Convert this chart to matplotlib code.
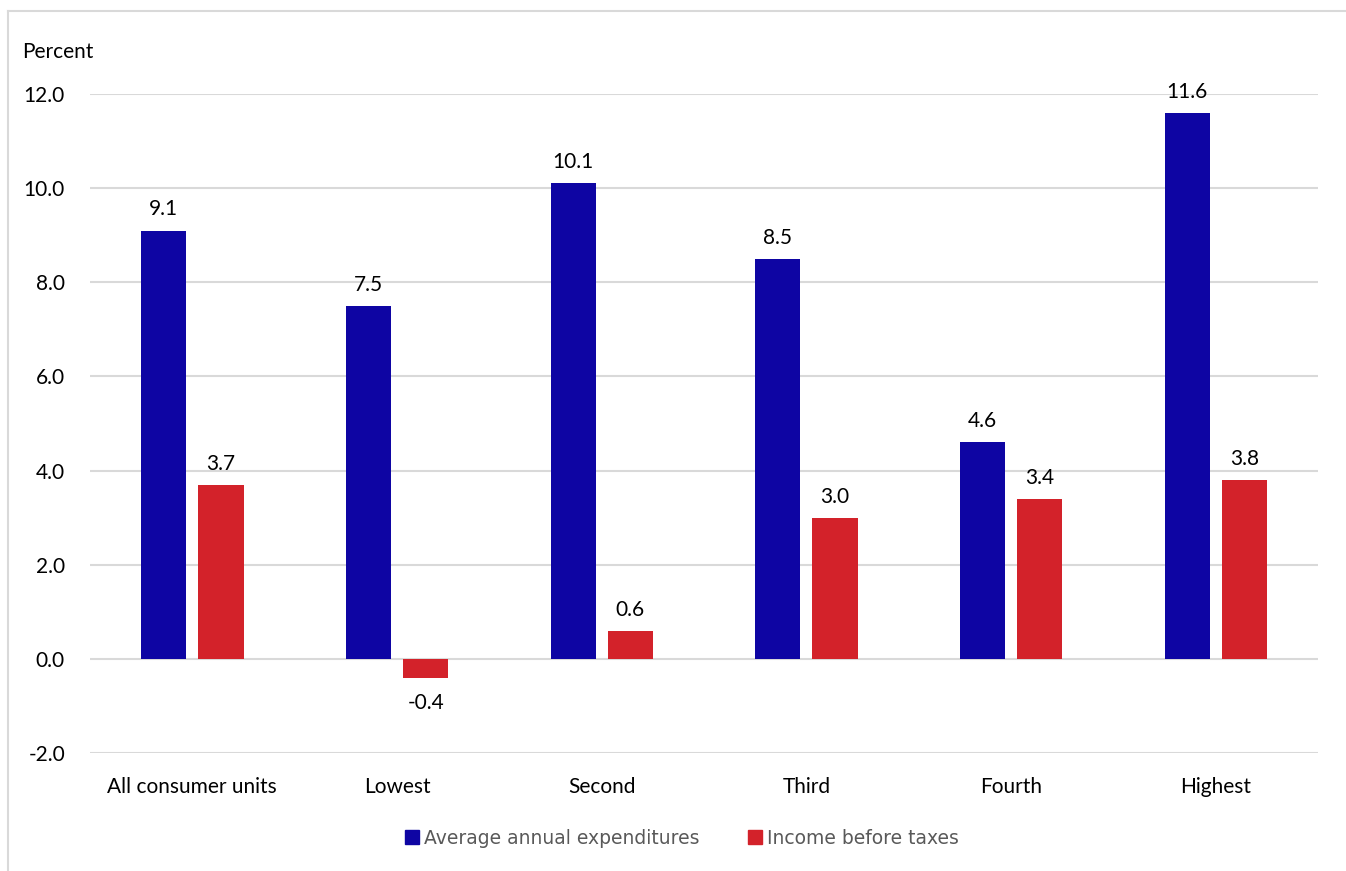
import numpy as np
import matplotlib.pyplot as plt
from matplotlib.lines import Line2D
from matplotlib.patches import Patch

# Percent change by income quintile
categories = ['All consumer units', 'Lowest', 'Second', 'Third', 'Fourth', 'Highest']
expenditures = [9.1, 7.5, 10.1, 8.5, 4.6, 11.6]
income = [3.7, -0.4, 0.6, 3.0, 3.4, 3.8]
yticks = [-2.0, 0.0, 2.0, 4.0, 6.0, 8.0, 10.0, 12.0]

blue = '#0e05a3'
red = '#d3222a'

plt.rcParams['font.family'] = ['Lato', 'DejaVu Sans']

W, H = 1346, 871
fig = plt.figure(figsize=(W / 100, H / 100), dpi=100)
ax = fig.add_axes([90 / W, 1 - 753 / H, (1318 - 90) / W, (753 - 94) / H])

# light border on the left and top of the chart area
border_kw = dict(transform=fig.transFigure, color='#d9d9d9', linewidth=1.5)
fig.add_artist(Line2D([8 / W, 8 / W], [0, 1 - 11 / H], **border_kw))
fig.add_artist(Line2D([8 / W, 1], [1 - 11 / H, 1 - 11 / H], **border_kw))

x = np.arange(len(categories))
w = 0.22
off = 0.14
b1 = ax.bar(x - off, expenditures, w, color=blue, zorder=3)
b2 = ax.bar(x + off, income, w, color=red, zorder=3)

for rect, v in zip(list(b1) + list(b2), expenditures + income):
    cx = rect.get_x() + rect.get_width() / 2
    if v >= 0:
        ax.annotate(f'{v:.1f}', (cx, v), xytext=(0, 8), textcoords='offset points',
                    ha='center', va='bottom', fontsize=15, color='#000000')
    else:
        ax.annotate(f'{v:.1f}', (cx, v), xytext=(0, -11), textcoords='offset points',
                    ha='center', va='top', fontsize=15, color='#000000')

ax.set_xlim(-0.5, len(categories) - 0.5)
ax.set_ylim(-2, 12)
ax.set_yticks(yticks)
ax.set_yticklabels([f'{t:.1f}' for t in yticks], fontsize=15)
ax.set_xticks(x)
ax.set_xticklabels(categories, fontsize=15)
ax.tick_params(axis='y', length=0, pad=18)
ax.tick_params(axis='x', length=0, pad=17)
ax.grid(axis='y', color='#d9d9d9', linewidth=1.5, zorder=0)
for s in ax.spines.values():
    s.set_visible(False)

fig.text(22 / W, 1 - 52 / H, 'Percent', fontsize=15, va='center', ha='left')

handles = [Patch(color=blue), Patch(color=red)]
fig.legend(handles, ['Average annual expenditures', 'Income before taxes'],
           loc='center', bbox_to_anchor=(682 / W, 1 - 838 / H), ncol=2,
           frameon=False, handlelength=0.75, handleheight=0.75,
           handletextpad=0.25, columnspacing=2.6, labelcolor='#595959',
           prop={'family': 'DejaVu Sans', 'size': 13.5})

fig.savefig('out.png', dpi=100)
